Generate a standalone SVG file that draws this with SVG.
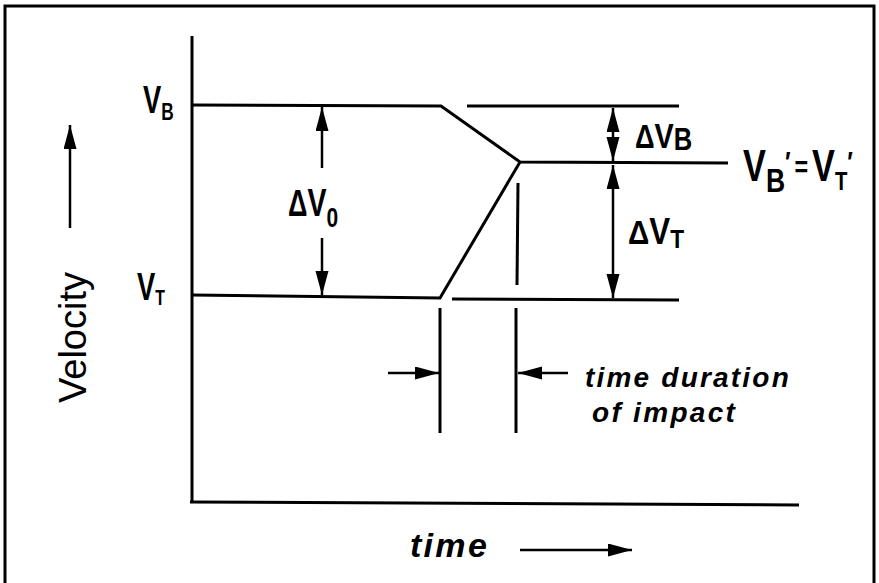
<svg xmlns="http://www.w3.org/2000/svg" width="879" height="583" viewBox="0 0 879 583">
<style>
.ln{stroke:#000;stroke-width:3;fill:none;stroke-linecap:butt}
.th{stroke:#000;stroke-width:2.5;fill:none}
.lb{font-family:"Liberation Sans",Arial,sans-serif;font-weight:bold;fill:#000}
.hw{font-family:"Liberation Sans",Arial,sans-serif;font-style:italic;font-weight:bold;fill:#000}
</style>
<defs>
<marker id="ah" markerUnits="userSpaceOnUse" markerWidth="26" markerHeight="14" refX="24" refY="6.5" orient="auto-start-reverse">
<path d="M0,0 L24,6.5 L0,13 z" fill="#000"/>
</marker>
</defs>
<rect width="879" height="583" fill="#fff"/>
<g id="frame">
<path class="ln" d="M5,590 L5,6 L874,6 L874,590"/>
</g>
<g id="axes">
<line class="ln" x1="192" y1="36" x2="192" y2="502"/>
<line class="ln" x1="190" y1="502" x2="799" y2="505"/>
</g>
<g id="curves">
<polyline class="ln" points="192,105 441,106 520,162 728,163"/>
<polyline class="ln" points="192,295 440,298 520,162"/>
<line class="ln" x1="467" y1="106" x2="679" y2="106"/>
<line class="ln" x1="452" y1="299" x2="679" y2="300"/>
<line class="ln" x1="518" y1="183" x2="517" y2="285"/>
<line class="ln" x1="440" y1="308" x2="440" y2="433"/>
<line class="ln" x1="516" y1="308" x2="516" y2="433"/>
</g>
<g id="connectors">
<line class="th" x1="322" y1="168" x2="322" y2="107" marker-end="url(#ah)"/>
<line class="th" x1="322" y1="238" x2="322" y2="295" marker-end="url(#ah)"/>
<line class="th" x1="613" y1="108" x2="613" y2="161" marker-start="url(#ah)" marker-end="url(#ah)"/>
<line class="th" x1="613" y1="165" x2="613" y2="298" marker-start="url(#ah)" marker-end="url(#ah)"/>
<line class="th" x1="70" y1="228" x2="70" y2="125" marker-end="url(#ah)"/>
<line class="th" x1="520" y1="550" x2="632" y2="550" marker-end="url(#ah)"/>
<line class="th" x1="388" y1="373" x2="439" y2="373" marker-end="url(#ah)"/>
<line class="th" x1="568" y1="373" x2="518" y2="373" marker-end="url(#ah)"/>
</g>
<g id="labels">
<text class="lb" transform="translate(143,113) scale(0.72,1)" font-size="38">V<tspan font-size="24" dy="7">B</tspan></text>
<text class="lb" transform="translate(137,300) scale(0.72,1)" font-size="38">V<tspan font-size="22" dy="5">T</tspan></text>
<text class="lb" transform="translate(288,216) scale(0.75,1)" font-size="38"><tspan font-size="36">Δ</tspan>V<tspan font-size="28" dy="11">0</tspan></text>
<text class="lb" transform="translate(635,148) scale(0.8,1)" font-size="36"><tspan font-size="34">Δ</tspan>V<tspan font-size="32" dy="2">B</tspan></text>
<text class="lb" transform="translate(628,244) scale(0.87,1)" font-size="36"><tspan font-size="34">Δ</tspan>V<tspan font-size="26" dy="4">T</tspan></text>
<text class="lb" transform="translate(743,181) scale(0.78,1)" font-size="44">V<tspan font-size="34" dy="11">B</tspan><tspan font-size="30" dy="-20">′</tspan><tspan font-size="30" dx="5" dy="5">=</tspan><tspan font-size="44" dx="5" dy="4">V</tspan><tspan font-size="26" dy="9">T</tspan><tspan font-size="30" dy="-18">′</tspan></text>
<text font-family="Liberation Sans, Arial, sans-serif" font-size="38" transform="translate(86,403) rotate(-90)">Velocity</text>
<text class="hw" x="410" y="557" font-size="34" letter-spacing="2.3">time</text>
<text class="hw" x="585" y="387" font-size="28" letter-spacing="2.2">time duration</text>
<text class="hw" x="592" y="422" font-size="28" letter-spacing="2.3">of impact</text>
</g>
</svg>
